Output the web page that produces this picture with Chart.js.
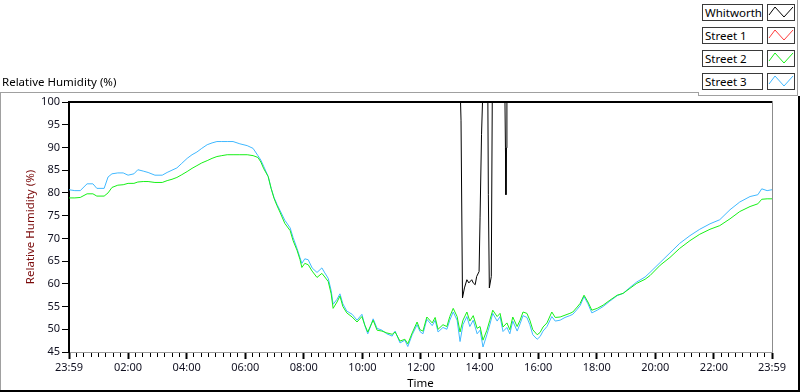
<!DOCTYPE html>
<html><head><meta charset="utf-8">
<script src="https://cdn.jsdelivr.net/npm/chart.js@4/dist/chart.umd.min.js"></script>
<style>
html,body{margin:0;padding:0;background:#fff;}
#wrap{position:relative;width:800px;height:392px;overflow:hidden;font-family:"Noto Sans",sans-serif;background:#fff;}
#c{position:absolute;left:0;top:0;}
.ln{position:absolute;}
#title{position:absolute;left:2px;top:75px;font-size:11.5px;line-height:14px;color:#000;white-space:nowrap;}
.leg{position:absolute;left:702px;width:61px;height:17px;border:1px solid #3a3a3a;box-sizing:border-box;font-size:11.5px;line-height:15px;padding-left:2px;color:#000;background:#fff;white-space:nowrap;}
.ico{position:absolute;left:767px;width:28px;height:17px;border:1px solid #3a3a3a;box-sizing:border-box;background:#fff;}
.ico svg{position:absolute;left:0;top:0;}
</style></head><body>
<div id="wrap">
<canvas id="c" width="800" height="392"></canvas>
<div id="title">Relative Humidity (%)</div>
<div id="legend"></div>
<div class="ln" style="left:0;top:92px;width:698px;height:1px;background:#a0a0a0"></div>
<div class="ln" style="left:698px;top:92px;width:1px;height:4px;background:#a0a0a0"></div>
<div class="ln" style="left:698px;top:95px;width:100px;height:1px;background:#a0a0a0"></div>
<div class="ln" style="left:797px;top:0;width:1px;height:96px;background:#a0a0a0"></div>
<div class="ln" style="left:0;top:92px;width:1px;height:300px;background:#a0a0a0"></div>
<div class="ln" style="left:798px;top:96px;width:2px;height:296px;background:#000"></div>
<div class="ln" style="left:0;top:390px;width:800px;height:2px;background:#000"></div>
</div>
<script>
// ---- tick labels ----
const xMajorTicks = [-1, 120, 240, 360, 480, 600, 720, 840, 960, 1080, 1200, 1320, 1439];
const xTickLabels = ['23:59','02:00','04:00','06:00','08:00','10:00','12:00','14:00','16:00','18:00','20:00','22:00','23:59'];
const yTickValues = [45, 50, 55, 60, 65, 70, 75, 80, 85, 90, 95, 100];

// ---- series ----
const seriesNames = ['Whitworth', 'Street 1', 'Street 2', 'Street 3'];
const seriesColors = ['#000000', '#ff3c3c', '#16f016', '#40b8ff'];

// minutes after midnight
const whitworthTimes  = [-1, 801, 802, 805, 809, 814, 818, 824, 827, 831, 834, 839, 841, 844, 846, 857, 858, 860, 864, 866, 892, 893, 894, 895, 896, 1439];
const whitworthValues = [100, 100, 96, 56.9, 59.1, 60.9, 60.2, 60.9, 60.2, 59.8, 61.6, 62.7, 74.5, 92.8, 100, 100, 79.6, 59.1, 61.6, 100, 100, 89.9, 79.6, 89.9, 100, 100];

const street1Times  = [];
const street1Values = [];

const streetTimes = [
 -1, 11, 22, 36, 48, 56, 71, 79, 87, 99, 110, 120, 132, 140, 151, 161, 175, 190, 200, 210,
 220, 230, 241, 251, 261, 271, 282, 292, 302, 312, 323, 335, 349, 364, 376, 386, 392, 398, 407, 413,
 419, 425, 431, 441, 452, 458, 466, 472, 476, 482, 489, 497, 507, 517, 523, 530, 536, 540, 548, 554,
 560, 568, 579, 589, 599, 605, 611, 622, 630, 640, 650, 661, 667, 677, 687, 693, 702, 712, 718, 724,
 732, 743, 749, 755, 765, 773, 779, 786, 794, 800, 806, 814, 820, 827, 835, 841, 847, 855, 861, 867,
 876, 882, 888, 896, 902, 908, 917, 923, 929, 937, 943, 949, 958, 964, 970, 978, 988, 995, 1005, 1015,
 1025, 1031, 1040, 1046, 1054, 1062, 1070, 1081, 1093, 1107, 1122, 1134, 1148, 1162, 1179, 1189, 1210, 1230, 1250, 1271,
 1291, 1312, 1332, 1353, 1373, 1394, 1410, 1418, 1429, 1439
];
const street2Values = [
 78.9, 78.9, 79.0, 79.8, 79.8, 79.3, 79.3, 80.0, 81.2, 81.7, 81.8, 82.1, 82.1, 82.4, 82.5, 82.5, 82.3, 82.3, 82.7, 83.0,
 83.4, 84.0, 84.7, 85.4, 86.0, 86.6, 87.1, 87.6, 88.0, 88.2, 88.4, 88.4, 88.4, 88.4, 88.2, 87.8, 86.8, 85.3, 83.6, 81.0,
 78.8, 77.2, 75.8, 73.3, 71.7, 69.5, 67.4, 65.4, 63.6, 64.5, 64.2, 62.8, 61.4, 62.3, 61.5, 60.5, 57.8, 54.6, 56.0, 57.3,
 55.0, 53.6, 52.7, 51.6, 52.8, 50.9, 49.4, 52.0, 49.8, 49.6, 49.2, 48.9, 49.4, 47.4, 47.8, 46.8, 49.2, 51.6, 49.9, 49.6,
 52.7, 51.4, 52.6, 50.0, 51.0, 50.6, 52.8, 54.6, 52.8, 49.4, 52.0, 53.8, 51.8, 53.0, 50.2, 50.6, 47.6, 49.8, 52.0, 54.2,
 52.8, 53.5, 50.5, 51.4, 49.9, 52.7, 50.6, 52.0, 53.8, 53.5, 52.0, 49.9, 48.8, 49.3, 50.5, 51.4, 53.8, 52.6, 52.7, 53.1,
 53.5, 53.8, 54.9, 55.7, 57.5, 56.0, 54.2, 54.6, 55.3, 56.4, 57.5, 57.9, 59.0, 60.1, 61.0, 61.8, 64.1, 65.8, 67.8, 69.5,
 70.9, 72.0, 72.8, 74.3, 75.9, 77.0, 77.6, 78.6, 78.7, 78.7
];
const street3Values = [
 80.7, 80.5, 80.5, 82.0, 82.0, 81.0, 81.0, 83.5, 84.2, 84.4, 84.4, 83.9, 84.2, 85.1, 84.8, 84.5, 83.9, 83.9, 84.5, 85.0,
 85.5, 86.5, 87.6, 88.4, 89.0, 89.8, 90.6, 91.0, 91.3, 91.3, 91.3, 91.3, 90.8, 90.4, 89.8, 88.2, 87.2, 85.8, 83.6, 81.0,
 79.0, 77.5, 76.2, 74.0, 72.3, 70.2, 67.8, 65.8, 64.5, 65.5, 65.3, 63.5, 62.5, 63.5, 62.4, 61.2, 58.5, 55.5, 56.6, 57.8,
 55.6, 54.0, 53.3, 52.0, 53.3, 50.8, 49.0, 52.3, 50.2, 49.8, 49.0, 48.5, 49.6, 47.0, 47.6, 46.2, 48.8, 51.0, 49.5, 49.0,
 52.2, 50.8, 52.0, 49.4, 50.4, 50.0, 52.0, 53.8, 52.0, 47.3, 51.0, 52.8, 50.6, 52.0, 49.0, 49.8, 46.1, 48.8, 51.0, 53.5,
 51.8, 52.8, 49.5, 50.4, 49.0, 51.8, 49.6, 51.2, 53.0, 52.6, 51.0, 48.8, 47.8, 48.4, 49.6, 50.6, 52.8, 51.8, 52.0, 52.6,
 53.0, 53.3, 54.4, 55.2, 57.2, 55.6, 53.6, 54.2, 55.0, 56.2, 57.4, 57.9, 59.2, 60.4, 61.5, 62.5, 64.7, 66.8, 68.9, 70.6,
 72.0, 73.2, 74.1, 76.3, 78.0, 79.2, 79.6, 80.9, 80.5, 80.7
];

// ---- legend (HTML) ----
const legendTops = [4, 27, 50, 73];
const legendEl = document.getElementById('legend');
seriesNames.forEach((name, i) => {
  const lab = document.createElement('div');
  lab.className = 'leg'; lab.style.top = legendTops[i] + 'px'; lab.textContent = name;
  legendEl.appendChild(lab);
  const ico = document.createElement('div');
  ico.className = 'ico'; ico.style.top = legendTops[i] + 'px';
  ico.innerHTML = '<svg width="26" height="15" viewBox="0 0 26 15"><polyline points="1,10 7,2 16,12 25,2" fill="none" stroke="' + seriesColors[i] + '" stroke-width="1"/></svg>';
  legendEl.appendChild(ico);
});

function pts(times, vals) { return times.map((t, i) => ({ x: t, y: vals[i] })); }

const tickFont = { family: 'Noto Sans', size: 11 };

const framePlugin = {
  id: 'frame',
  afterDatasetsDraw(chart) {
    const { ctx, chartArea: a } = chart;
    ctx.save();
    ctx.fillStyle = '#000';
    ctx.fillRect(a.left - 1, a.top - 1, a.right - a.left + 1, 2);
    ctx.fillStyle = '#8c8c8c';
    ctx.fillRect(a.right, a.top - 1, 1, a.bottom - a.top + 1);
    ctx.restore();
  }
};

const datasets = [
  { label: seriesNames[0], data: pts(whitworthTimes, whitworthValues), borderColor: seriesColors[0] },
  { label: seriesNames[1], data: pts(street1Times, street1Values), borderColor: seriesColors[1] },
  { label: seriesNames[2], data: pts(streetTimes, street2Values), borderColor: seriesColors[2] },
  { label: seriesNames[3], data: pts(streetTimes, street3Values), borderColor: seriesColors[3] }
].map(d => Object.assign(d, { borderWidth: 1, pointRadius: 0, tension: 0, fill: false, clip: 4 }));

new Chart(document.getElementById('c'), {
  type: 'line',
  data: { datasets },
  plugins: [framePlugin],
  options: {
    responsive: false, animation: false, devicePixelRatio: 1,
    layout: { padding: { top: 102, right: 28, left: 0, bottom: 0 } },
    plugins: { legend: { display: false }, tooltip: { enabled: false }, title: { display: false } },
    scales: {
      x: {
        type: 'linear', position: 'bottom', min: -1, max: 1439, weight: 1,
        afterBuildTicks: s => { s.ticks = xMajorTicks.map(v => ({ value: v })); },
        afterFit: s => { s.height = 40; },
        ticks: { autoSkip: false, maxRotation: 0, color: '#101020', font: tickFont, padding: 2,
          callback: (v) => { const k = xMajorTicks.indexOf(v); return k >= 0 ? xTickLabels[k] : ''; } },
        grid: { drawOnChartArea: false, drawTicks: true, tickLength: 7, tickWidth: 2, tickColor: '#000' },
        border: { display: true, color: '#9a9a9a', width: 1 },
        title: { display: true, text: 'Time', color: '#000', font: { family: 'Noto Sans', size: 11.5 }, padding: { top: 0, bottom: 1 } }
      },
      xMinor: {
        type: 'linear', position: 'bottom', min: -1, max: 1439, weight: 0,
        afterBuildTicks: s => {
          const t = [];
          for (let i = 0; i < xMajorTicks.length - 1; i++) {
            const a = xMajorTicks[i], b = xMajorTicks[i + 1];
            for (let k = 1; k < 8; k++) t.push({ value: a + (b - a) * k / 8 });
          }
          s.ticks = t;
        },
        afterFit: s => { s.height = 0; },
        ticks: { display: false },
        grid: { drawOnChartArea: false, drawTicks: true, tickLength: 5, tickWidth: 1, tickColor: '#000' },
        border: { display: false }
      },
      y: {
        type: 'linear', position: 'left', min: 45, max: 100,
        afterBuildTicks: s => { s.ticks = yTickValues.map(v => ({ value: v })); },
        afterFit: s => { s.width = 69; },
        ticks: { color: '#101020', font: tickFont, padding: 2 },
        grid: { drawOnChartArea: false, drawTicks: true, tickLength: 7, tickWidth: 1, tickColor: '#000' },
        border: { display: true, color: '#000', width: 2 },
        title: { display: true, text: 'Relative Humidity (%)', color: '#7a0a0a', font: { family: 'Noto Sans', size: 11.5 }, padding: { top: 24, bottom: 0 } }
      }
    }
  }
});
</script>
</body></html>
